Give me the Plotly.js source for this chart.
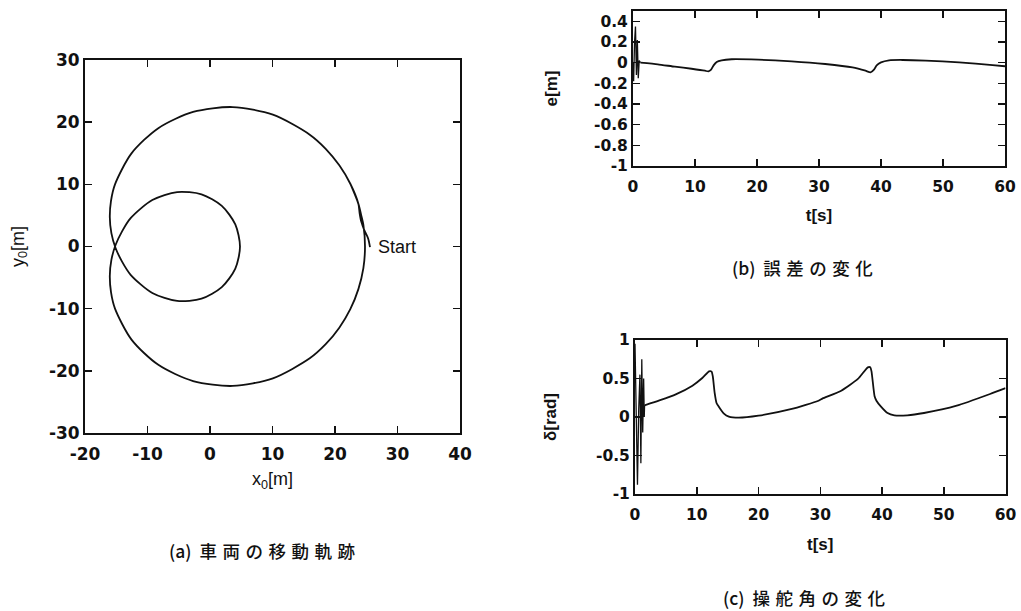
<!DOCTYPE html>
<html>
<head>
<meta charset="utf-8">
<script src="https://cdn.plot.ly/plotly-3.0.1.min.js"></script>
<style>
  html, body { margin: 0; padding: 0; background: #fff; }
  #chart { width: 1021px; height: 611px; }
</style>
</head>
<body>
<div id="chart"></div>
<script>
// (a) vehicle trajectory x0, y0 [m]
const trajX = [25.6, 25.3, 24.7, 24.2, 23.95, 23.74, 22.45, 20.69, 18.51, 15.96, 10.06, 3.62, -2.70, -8.27, -12.56, -15.2, -15.84, -16.03, -15.78, -15.11, -14.07, -12.70, -9.23, -5.26, -1.36, 1.89, 4.05, 4.8, 4.05, 1.89, -1.36, -5.26, -9.23, -12.70, -14.07, -15.11, -15.78, -16.03, -15.84, -15.2, -12.56, -8.27, -2.70, 3.62, 10.06, 15.96, 18.51, 20.69, 22.45, 23.74, 24.54, 24.8, 24.54, 24.2, 23.74, 22.45];
const trajY = [-0.1, 1.3, 2.6, 4.0, 5.3, 6.86, 10.09, 13.06, 15.72, 17.99, 21.20, 22.43, 21.65, 19.04, 14.98, 10.0, 7.35, 4.72, 2.16, -0.24, -2.43, -4.55, -7.47, -8.76, -8.39, -6.53, -3.56, 0.0, 3.56, 6.53, 8.39, 8.76, 7.47, 4.55, 2.43, 0.24, -2.16, -4.72, -7.35, -10.0, -14.98, -19.04, -21.65, -22.43, -21.20, -17.99, -15.72, -13.06, -10.09, -6.86, -3.48, 0.0, 3.48, 5.0, 6.86, 10.09];

// (b) error e [m] vs time t [s]: initial oscillation, then the main response
const tEOsc = [0, 0.1, 0.25, 0.4, 0.55, 0.7, 0.85, 1.0, 1.2];
const eOsc = [0.0, -0.18, 0.2, 0.35, -0.12, 0.22, -0.15, 0.02, 0.0];
const tE = [1.2, 4.0, 6.75, 9.45, 11.6, 12.15, 12.6, 13.0, 13.5, 14.3, 15.9, 20.2, 25.6, 31.0, 35.4, 37.5, 38.3, 38.9, 39.3, 40.0, 41.3, 43.5, 47.2, 52.6, 58.0, 60.0];
const eVals = [0.0, -0.016, -0.039, -0.059, -0.078, -0.085, -0.068, -0.026, 0.007, 0.023, 0.033, 0.029, 0.013, -0.013, -0.046, -0.078, -0.094, -0.065, -0.026, 0.003, 0.023, 0.026, 0.02, 0.003, -0.023, -0.035];

// (c) steering angle delta [rad] vs time t [s]
const tDOsc = [0, 0.2, 0.4, 0.6, 0.8, 0.95, 1.1, 1.25, 1.4, 1.5, 1.55];
const dOsc = [0.95, -0.3, -0.88, 0.1, 0.55, -0.6, 0.75, -0.2, 0.5, 0.0, 0.152];
const tD = [1.55, 3.95, 6.6, 9.3, 10.9, 12.0, 12.4, 12.6, 12.9, 13.2, 13.6, 14.4, 15.2, 16.8, 20.0, 25.4, 29.6, 30.0, 30.4, 33.4, 36.1, 37.7, 38.1, 38.3, 38.8, 39.1, 39.8, 40.9, 42.0, 44.1, 46.8, 52.1, 57.5, 60.0];
const dVals = [0.152, 0.216, 0.294, 0.407, 0.506, 0.593, 0.589, 0.528, 0.312, 0.182, 0.13, 0.043, 0.004, -0.009, 0.017, 0.104, 0.208, 0.225, 0.242, 0.342, 0.494, 0.645, 0.645, 0.593, 0.268, 0.212, 0.139, 0.052, 0.022, 0.022, 0.052, 0.147, 0.299, 0.375];

// tick values / labels
const xTickA = [-20, -10, 0, 10, 20, 30, 40];
const xTickAText = ['-20', '-10', '0', '10', '20', '30', '40'];
const yTickA = [-30, -20, -10, 0, 10, 20, 30];
const yTickAText = ['-30', '-20', '-10', '0', '10', '20', '30'];
const tTicks = [0, 10, 20, 30, 40, 50, 60];
const tTickText = ['0', '10', '20', '30', '40', '50', '60'];
const eTicks = [-1, -0.8, -0.6, -0.4, -0.2, 0, 0.2, 0.4];
const eTickText = ['-1', '-0.8', '-0.6', '-0.4', '-0.2', '0', '0.2', '0.4'];
const dTicks = [-1, -0.5, 0, 0.5, 1];
const dTickText = ['-1', '-0.5', '0', '0.5', '1'];

const startLabel = 'Start';
const captionTags = ['(a)', '(b)', '(c)'];
const captionTitles = ['車両の移動軌跡', '誤差の変化', '操舵角の変化'];

const ink = '#111';
const tickFontBig = { family: 'DejaVu Sans', size: 17, color: ink, weight: 'bold' };
const tickFontSmall = { family: 'DejaVu Sans', size: 15.5, color: ink, weight: 'bold' };
const capFont = { family: 'Noto Sans CJK JP', size: 17.5, color: ink, weight: 500 };

function axisBase(extra) {
  return Object.assign({
    showline: true, linecolor: ink, linewidth: 2, mirror: 'allticks',
    ticks: 'inside', ticklen: 7, tickwidth: 1.5, tickcolor: ink,
    showgrid: false, zeroline: false, tickmode: 'array', fixedrange: true
  }, extra);
}

const lineStyle = { color: ink, width: 1.8 };
const smooth = Object.assign({ shape: 'spline', smoothing: 0.5 }, lineStyle);

const traces = [
  { x: trajX, y: trajY, xaxis: 'x', yaxis: 'y', mode: 'lines',
    line: Object.assign({ shape: 'spline', smoothing: 0.8 }, lineStyle), hoverinfo: 'skip' },
  { x: tEOsc, y: eOsc, xaxis: 'x2', yaxis: 'y2', mode: 'lines', line: { color: ink, width: 1.3 }, hoverinfo: 'skip' },
  { x: tE, y: eVals, xaxis: 'x2', yaxis: 'y2', mode: 'lines', line: smooth, hoverinfo: 'skip' },
  { x: tDOsc, y: dOsc, xaxis: 'x3', yaxis: 'y3', mode: 'lines', line: { color: ink, width: 1.3 }, hoverinfo: 'skip' },
  { x: tD, y: dVals, xaxis: 'x3', yaxis: 'y3', mode: 'lines', line: smooth, hoverinfo: 'skip' }
];

function caption(i) {
  return captionTags[i] + '\u00A0 <span style="letter-spacing:5.5px">' + captionTitles[i] + '</span>';
}

const layout = {
  width: 1021, height: 611,
  margin: { l: 0, r: 0, t: 0, b: 0 },
  paper_bgcolor: '#fff', plot_bgcolor: '#fff',
  showlegend: false,
  xaxis: axisBase({ domain: [0.08325, 0.45054], range: [-20, 40], anchor: 'y',
    tickvals: xTickA, ticktext: xTickAText, tickfont: tickFontBig, ticklabelstandoff: 5,
    title: { text: 'x<sub>0</sub>[m]', font: { family: 'Liberation Sans', size: 18, color: ink }, standoff: 9 } }),
  yaxis: axisBase({ domain: [0.29133, 0.90180], range: [-30, 30], anchor: 'x',
    tickvals: yTickA, ticktext: yTickAText, tickfont: tickFontBig,
    title: { text: 'y<sub>0</sub>[m]', font: { family: 'Liberation Sans', size: 18, color: ink }, standoff: 20 } }),
  xaxis2: axisBase({ domain: [0.61998, 0.98433], range: [0, 60], anchor: 'y2',
    tickvals: tTicks, ticktext: tTickText, tickfont: tickFontSmall, ticklabelstandoff: 5,
    title: { text: 't[s]', font: { family: 'Liberation Sans', size: 17, color: ink, weight: 'bold' }, standoff: 14 } }),
  yaxis2: axisBase({ domain: [0.72831, 0.98200], range: [-1, 0.5], anchor: 'x2',
    tickvals: eTicks, ticktext: eTickText, tickfont: tickFontSmall,
    title: { text: 'e[m]', font: { family: 'Liberation Sans', size: 17, color: ink, weight: 'bold' }, standoff: 32 } }),
  xaxis3: axisBase({ domain: [0.62194, 0.98482], range: [0, 60], anchor: 'y3',
    tickvals: tTicks, ticktext: tTickText, tickfont: tickFontSmall, ticklabelstandoff: 5,
    title: { text: 't[s]', font: { family: 'Liberation Sans', size: 17, color: ink, weight: 'bold' }, standoff: 16 } }),
  yaxis3: axisBase({ domain: [0.19149, 0.44354], range: [-1, 1], anchor: 'x3',
    tickvals: dTicks, ticktext: dTickText, tickfont: tickFontSmall,
    title: { text: 'δ[rad]', font: { family: 'Liberation Sans', size: 17, color: ink, weight: 'bold' }, standoff: 35 } }),
  annotations: [
    { text: caption(0), xref: 'paper', yref: 'paper', x: 0.2595, y: 0.0982, showarrow: false,
      xanchor: 'center', yanchor: 'middle', font: capFont },
    { text: caption(1), xref: 'paper', yref: 'paper', x: 0.7884, y: 0.563, showarrow: false,
      xanchor: 'center', yanchor: 'middle', font: capFont },
    { text: caption(2), xref: 'paper', yref: 'paper', x: 0.790, y: 0.0229, showarrow: false,
      xanchor: 'center', yanchor: 'middle', font: capFont },
    { text: startLabel, xref: 'x', yref: 'y', x: trajX[0], y: trajY[0], showarrow: false,
      xanchor: 'left', yanchor: 'middle', xshift: 6,
      font: { family: 'Liberation Sans', size: 18, color: ink } }
  ]
};

Plotly.newPlot('chart', traces, layout, { staticPlot: true, displayModeBar: false });
</script>
</body>
</html>
